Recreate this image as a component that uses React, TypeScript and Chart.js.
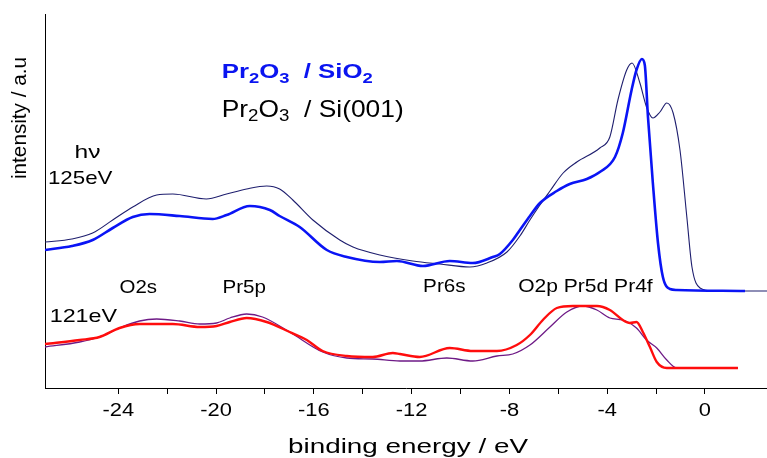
import React, { useEffect, useRef } from "react";
import { Chart, registerables } from "chart.js";

Chart.register(...registerables);

// ---- data (binding energy in eV, intensity in arbitrary units) ----
const energySiO2 = [-27.0, -25.9, -25.05, -24.23, -23.41, -22.72, -21.49, -20.14, -19.57, -18.62, -17.8, -17.4, -16.58, -15.47, -14.65, -13.3, -12.6, -11.54, -10.44, -9.5, -8.68, -8.39, -7.86, -7.57, -7.16, -6.75, -6.06, -5.53, -4.83, -4.3, -3.68, -3.36, -3.0, -2.8, -2.58, -2.46, -2.33, -2.13, -1.92, -1.72, -1.43, -1.15, 1.64];
const intensitySiO2 = [138, 142, 148, 160, 171, 174, 172, 169, 173, 182, 178, 172, 161, 138, 131, 126, 127, 122, 127, 125, 131, 134, 148, 158, 172, 185, 197, 204, 209, 216, 231, 255, 298, 318, 329, 323, 271, 205, 145, 111, 99, 98, 97];

const energySi = [-27.0, -25.9, -25.05, -24.23, -23.41, -22.43, -21.77, -20.4, -19.57, -18.75, -17.93, -17.4, -16.86, -16.04, -14.94, -14.4, -13.3, -11.95, -10.85, -9.62, -8.92, -8.1, -7.57, -7.16, -6.75, -6.34, -5.8, -5.24, -4.3, -3.89, -3.56, -3.2, -2.98, -2.66, -2.39, -2.13, -1.84, -1.56, -1.3, -1.02, -0.74, -0.53, -0.2, 0.33, 2.54];
const intensitySi = [146, 149, 155, 168, 181, 193, 194, 189, 194, 199, 202, 199, 188, 168, 148, 141, 133, 127, 124, 121, 125, 136, 152, 168, 183, 197, 215, 226, 240, 251, 288, 318, 325, 305, 281, 270, 276, 285, 275, 238, 171, 121, 100, 97, 97];

const energy121Red = [-27.0, -25.58, -24.77, -23.95, -23.13, -21.77, -20.67, -19.98, -19.44, -18.75, -17.93, -16.99, -16.29, -15.64, -14.65, -13.59, -12.77, -12.48, -11.67, -10.44, -9.5, -8.51, -7.7, -7.16, -6.63, -6.06, -5.4, -4.42, -3.89, -3.36, -3.07, -2.8, -2.54, -2.25, -1.97, -1.56, -0.61, 1.35];
const intensity121Red = [44, 48, 51, 60, 64, 64, 61, 62, 66, 70, 66, 56, 48, 37, 32, 31, 35, 34, 31, 40, 37, 37, 43, 53, 68, 80, 82, 82, 78, 68, 65, 66, 56, 41, 26, 20, 20, 20];

const energy121Purple = [-27.0, -25.58, -24.77, -23.95, -23.13, -22.43, -21.49, -20.67, -19.98, -19.44, -18.75, -18.1, -16.99, -15.64, -14.65, -13.59, -12.48, -11.67, -10.56, -9.5, -8.51, -7.86, -7.16, -6.34, -5.65, -4.99, -4.42, -3.89, -3.36, -2.8, -2.39, -1.97, -1.56, -1.15, 1.35];
const intensity121Purple = [41, 46, 51, 60, 67, 69, 67, 64, 65, 70, 74, 71, 56, 36, 30, 29, 27, 27, 30, 27, 32, 34, 43, 61, 76, 82, 78, 70, 68, 60, 48, 40, 28, 20, 20];

const xTickLabels = [-24, -20, -16, -12, -8, -4, 0];
const xMinorStep = 2;
const xMin = -27;
const xMax = 2.54;
const yMin = 0;
const yMax = 374;

const xTitle = "binding energy / eV";
const yTitle = "intensity / a.u";

const FONT = "'Liberation Sans', Arial, Helvetica, sans-serif";

type Seg = { t: string; size: number; bold?: boolean; dy?: number };
type Note = { segs: Seg[]; x: number; y: number; w: number; color: string };

// annotations placed in data coordinates (energy, intensity)
const notes: Note[] = [
  {
    segs: [
      { t: "Pr", size: 21, bold: true },
      { t: "2", size: 15, bold: true, dy: 5 },
      { t: "O", size: 21, bold: true },
      { t: "3", size: 15, bold: true, dy: 5 },
      { t: "  / SiO", size: 21, bold: true },
      { t: "2", size: 15, bold: true, dy: 5 },
    ],
    x: -19.77, y: 309.7, w: 151, color: "#0a14f0",
  },
  {
    segs: [
      { t: "Pr", size: 24 },
      { t: "2", size: 17, dy: 4 },
      { t: "O", size: 24 },
      { t: "3", size: 17, dy: 4 },
      { t: "  / Si(001)", size: 24 },
    ],
    x: -19.77, y: 271.3, w: 182, color: "#000",
  },
  { segs: [{ t: "hν", size: 18 }], x: -25.79, y: 229.7, w: 26, color: "#000" },
  { segs: [{ t: "125eV", size: 18.5 }], x: -26.88, y: 204, w: 64.5, color: "#000" },
  { segs: [{ t: "121eV", size: 19 }], x: -26.81, y: 65.7, w: 67.5, color: "#000" },
  { segs: [{ t: "O2s", size: 17.5 }], x: -23.95, y: 95.3, w: 37.5, color: "#000" },
  { segs: [{ t: "Pr5p", size: 17.5 }], x: -19.74, y: 95.3, w: 43.5, color: "#000" },
  { segs: [{ t: "Pr6s", size: 17.5 }], x: -11.53, y: 95.7, w: 42.5, color: "#000" },
  { segs: [{ t: "O2p Pr5d Pr4f", size: 17.5 }], x: -7.64, y: 95.7, w: 134.5, color: "#000" },
];

function segFont(s: Seg) {
  return `${s.bold ? "bold " : ""}${s.size}px ${FONT}`;
}

function drawSegs(ctx: CanvasRenderingContext2D, segs: Seg[], x: number, y: number, targetW: number, color: string, align: "left" | "center" = "left") {
  ctx.save();
  ctx.fillStyle = color;
  ctx.textBaseline = "alphabetic";
  ctx.textAlign = "left";
  const widths = segs.map((s) => {
    ctx.font = segFont(s);
    return ctx.measureText(s.t).width;
  });
  const natural = widths.reduce((a, b) => a + b, 0);
  const sx = targetW / natural;
  ctx.translate(align === "center" ? x - targetW / 2 : x, y);
  ctx.scale(sx, 1);
  let cx = 0;
  segs.forEach((s, i) => {
    ctx.font = segFont(s);
    ctx.fillText(s.t, cx, s.dy || 0);
    cx += widths[i];
  });
  ctx.restore();
}

const textPlugin = {
  id: "textPlugin",
  afterDraw(chart: any) {
    const ctx: CanvasRenderingContext2D = chart.ctx;
    const xs = chart.scales.x;
    const ys = chart.scales.y;
    const area = chart.chartArea;
    // tick labels
    xTickLabels.forEach((v) => {
      const px = xs.getPixelForValue(v);
      const label = String(v);
      ctx.save();
      ctx.font = `17.5px ${FONT}`;
      const w = ctx.measureText(label).width;
      ctx.restore();
      drawSegs(ctx, [{ t: label, size: 17.5 }], px, area.bottom + 28, w * 1.25, "#000", "center");
    });
    // notes
    notes.forEach((n) => {
      drawSegs(ctx, n.segs, xs.getPixelForValue(n.x), ys.getPixelForValue(n.y), n.w, n.color);
    });
    // x title
    drawSegs(ctx, [{ t: xTitle, size: 21 }], (area.left + area.right) / 2 + 2, area.bottom + 65, 240, "#000", "center");
    // y title
    ctx.save();
    ctx.translate(26, area.top + 104);
    ctx.rotate(-Math.PI / 2);
    drawSegs(ctx, [{ t: yTitle, size: 20 }], 0, 0, 122, "#000", "center");
    ctx.restore();
  },
};

function pts(xs: number[], ys: number[]) {
  return xs.map((x, i) => ({ x, y: ys[i] }));
}

export default function App() {
  const ref = useRef<HTMLCanvasElement | null>(null);
  useEffect(() => {
    if (!ref.current) return;
    const common = { pointRadius: 0, fill: false, cubicInterpolationMode: "monotone" as const, borderJoinStyle: "round" as const };
    const chart = new Chart(ref.current, {
      type: "line",
      data: {
        datasets: [
          { ...common, label: "Pr2O3 / SiO2 (125 eV)", data: pts(energySiO2, intensitySiO2), borderColor: "#0a14f5", borderWidth: 2.6, order: 1 },
          { ...common, label: "Pr2O3 / Si(001) (125 eV)", data: pts(energySi, intensitySi), borderColor: "#1e1e6e", borderWidth: 1.1, order: 2 },
          { ...common, label: "Pr2O3 / SiO2 (121 eV)", data: pts(energy121Red, intensity121Red), borderColor: "#ff0d0d", borderWidth: 2.4, order: 3 },
          { ...common, label: "Pr2O3 / Si(001) (121 eV)", data: pts(energy121Purple, intensity121Purple), borderColor: "#6e1a86", borderWidth: 1.3, order: 4 },
        ],
      },
      options: {
        responsive: false,
        devicePixelRatio: 1,
        animation: false,
        layout: { padding: { top: 14, right: 0, left: 0, bottom: 0 } },
        plugins: { legend: { display: false }, tooltip: { enabled: false }, title: { display: false } },
        scales: {
          x: {
            type: "linear",
            min: xMin,
            max: xMax,
            afterBuildTicks: (axis: any) => {
              axis.ticks = axis.ticks.filter((t: any) => Math.abs(Math.round(t.value / xMinorStep) * xMinorStep - t.value) < 1e-6);
            },
            afterFit: (axis: any) => {
              axis.height = 70;
            },
            ticks: { stepSize: xMinorStep, display: false, autoSkip: false },
            grid: { display: true, drawOnChartArea: false, drawTicks: true, tickLength: 6, color: "#000", lineWidth: 1 },
            border: { display: true, color: "#000", width: 1 },
          },
          y: {
            type: "linear",
            min: yMin,
            max: yMax,
            afterFit: (axis: any) => {
              axis.width = 45;
            },
            ticks: { display: false },
            grid: { display: false },
            border: { display: true, color: "#000", width: 1 },
          },
        },
      },
      plugins: [textPlugin],
    });
    return () => chart.destroy();
  }, []);
  return (
    <div style={{ position: "absolute", left: 0, top: 0, width: 767, height: 458, background: "#fff" }}>
      <canvas ref={ref} width={767} height={458} style={{ display: "block", width: 767, height: 458 }} />
    </div>
  );
}
